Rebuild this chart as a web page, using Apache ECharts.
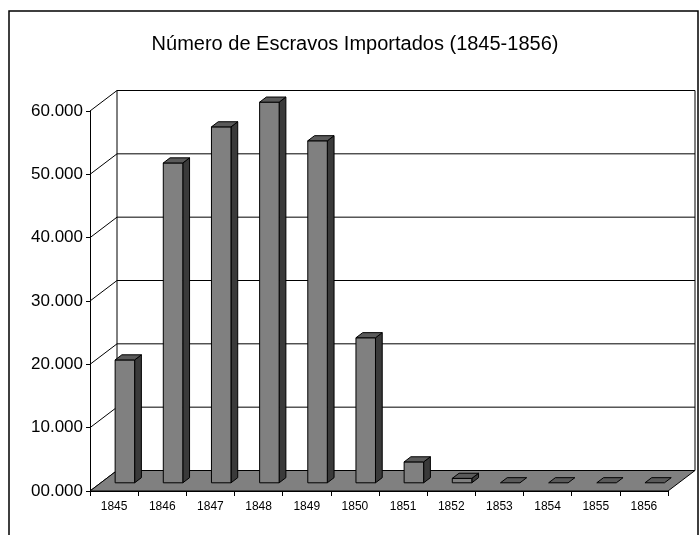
<!DOCTYPE html>
<html>
<head>
<meta charset="utf-8">
<script src="https://cdn.jsdelivr.net/npm/echarts@6/dist/echarts.min.js"></script>
<style>
html,body{margin:0;padding:0;background:#fff;}
#chart{width:699px;height:535px;}
</style>
</head>
<body>
<div id="chart"></div>
<script>
// ---- data ----
var titleText = 'Número de Escravos Importados (1845-1856)';
var years = ['1845','1846','1847','1848','1849','1850','1851','1852','1853','1854','1855','1856'];
var imported = [19400, 50500, 56200, 60100, 54000, 22900, 3300, 700, 0, 0, 0, 0];
var yTicks = [0, 10000, 20000, 30000, 40000, 50000, 60000];

// ---- styling constants (3D look) ----
var DX = 27, DY = -20.5;          // wall depth offset in px
var F1 = 0.40, F2 = 0.65;         // bar depth fractions (front/back)
var BAR_W = 0.405;                // bar width as fraction of band
var FONT = '"Liberation Sans", Arial, Helvetica, sans-serif';

var chart = echarts.init(document.getElementById('chart'), null, {renderer: 'canvas'});

function wallRender(params, api) {
  var cs = params.coordSys;
  var x0 = cs.x, x1 = cs.x + cs.width;
  var yb = cs.y + cs.height, yt = cs.y;
  var children = [];
  // back wall fill
  children.push({type: 'polygon', shape: {points: [[x0+DX, yt+DY],[x1+DX, yt+DY],[x1+DX, yb+DY],[x0+DX, yb+DY]]},
    style: {fill: '#ffffff', stroke: null}});
  // gridlines on back wall + diagonals on left side
  yTicks.forEach(function (v) {
    var y = api.coord([0, v])[1];
    children.push({type: 'line', shape: {x1: x0, y1: y, x2: x0+DX, y2: y+DY}, style: {stroke: '#000', lineWidth: 1}});
    if (v !== 0) {
      children.push({type: 'line', shape: {x1: x0+DX, y1: y+DY, x2: x1+DX, y2: y+DY}, style: {stroke: '#000', lineWidth: 1}});
    }
  });
  // back wall edges
  children.push({type: 'line', shape: {x1: x0+DX, y1: yt+DY, x2: x0+DX, y2: yb+DY}, style: {stroke: '#000', lineWidth: 1}});
  children.push({type: 'line', shape: {x1: x1+DX, y1: yt+DY, x2: x1+DX, y2: yb+DY}, style: {stroke: '#000', lineWidth: 1}});
  // floor
  children.push({type: 'polygon', shape: {points: [[x0, yb],[x1, yb],[x1+DX, yb+DY],[x0+DX, yb+DY]]},
    style: {fill: '#808080', stroke: '#000', lineWidth: 1}});
  return {type: 'group', children: children};
}

function barRender(params, api) {
  var idx = api.value(0), val = api.value(1);
  var top = api.coord([idx, val]);
  var base = api.coord([idx, 0]);
  var band = api.size([1, 0])[0];
  var w = band * BAR_W;
  var fx = top[0] + F1 * DX, fy = F1 * DY;
  var bx = (F2 - F1) * DX, by = (F2 - F1) * DY;
  var xl = fx - w / 2, xr = fx + w / 2;
  var yt = top[1] + fy, yb = base[1] + fy;
  var st = {stroke: '#000', lineWidth: 1, lineJoin: 'round'};
  var children = [];
  if (yb - yt > 0.5) {
    children.push({type: 'polygon', shape: {points: [[xr, yt],[xr+bx, yt+by],[xr+bx, yb+by],[xr, yb]]},
      style: Object.assign({fill: '#3a3a3a'}, st)});
    children.push({type: 'polygon', shape: {points: [[xl, yt],[xr, yt],[xr, yb],[xl, yb]]},
      style: Object.assign({fill: '#808080'}, st)});
  }
  children.push({type: 'polygon', shape: {points: [[xl, yt],[xl+bx, yt+by],[xr+bx, yt+by],[xr, yt]]},
    style: Object.assign({fill: '#5a5a5a'}, st)});
  return {type: 'group', children: children};
}

var option = {
  backgroundColor: '#ffffff',
  animation: false,
  graphic: [
    {type: 'rect', z: 100, shape: {x: 9, y: 11, width: 689, height: 540},
      style: {fill: null, stroke: '#000', lineWidth: 1.5}},
    {type: 'text', z: 100, x: 355, y: 44,
      style: {text: titleText, textAlign: 'center', textVerticalAlign: 'middle',
        font: '20px ' + FONT, fill: '#000'}}
  ],
  grid: {left: 90, right: 31, top: 111, bottom: 44, containLabel: false},
  xAxis: {
    type: 'category', data: years, boundaryGap: true,
    axisLine: {show: true, lineStyle: {color: '#000', width: 1}},
    axisTick: {show: true, inside: false, length: 5, alignWithLabel: false, lineStyle: {color: '#000'}},
    axisLabel: {color: '#000', fontSize: 12, fontFamily: FONT, margin: 10, interval: 0},
    splitLine: {show: false}
  },
  yAxis: {
    type: 'value', min: 0, max: 60000, interval: 10000,
    axisLine: {show: true, lineStyle: {color: '#000', width: 1}},
    axisTick: {show: true, inside: false, length: 4, lineStyle: {color: '#000'}},
    axisLabel: {color: '#000', fontSize: 17, fontFamily: FONT, margin: 7,
      formatter: function (v) { var k = v / 1000; return (k < 10 ? '0' : '') + k + '.000'; }},
    splitLine: {show: false}
  },
  series: [
    {type: 'custom', z: 1, clip: false, renderItem: wallRender, data: [[0, 0]], silent: true},
    {type: 'custom', z: 3, clip: false, renderItem: barRender,
      data: imported.map(function (v, i) { return [i, v]; }),
      encode: {x: 0, y: 1}}
  ]
};
chart.setOption(option);
</script>
</body>
</html>
